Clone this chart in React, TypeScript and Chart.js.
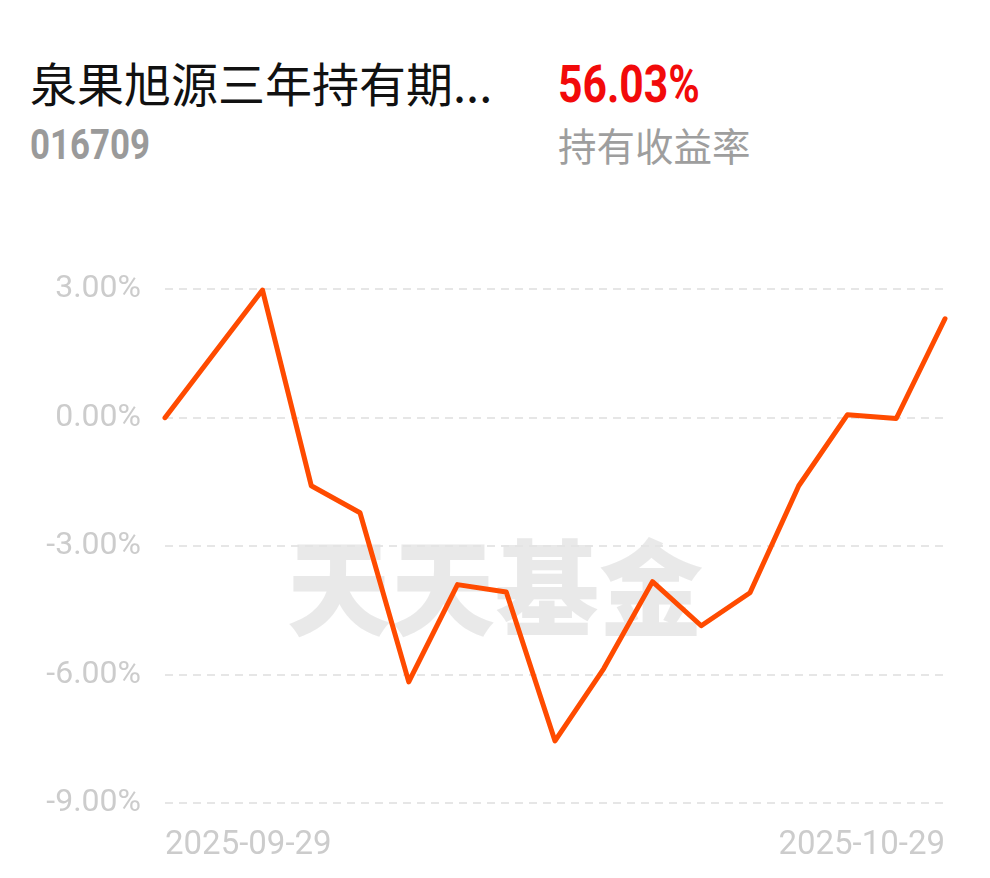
import React, { useEffect, useRef } from "react";
import { Chart, registerables } from "chart.js";

Chart.register(...registerables);

const fundName = "泉果旭源三年持有期...";
const fundCode = "016709";
const holdReturn = "56.03%";
const holdReturnLabel = "持有收益率";
const watermark = "天天基金";

const dates = [
  "2025-09-29", "2025-09-30", "2025-10-09", "2025-10-10", "2025-10-13",
  "2025-10-14", "2025-10-15", "2025-10-16", "2025-10-17", "2025-10-20",
  "2025-10-21", "2025-10-22", "2025-10-23", "2025-10-24", "2025-10-27",
  "2025-10-28", "2025-10-29",
];
const returns = [
  0.0, 1.49, 2.98, -1.59, -2.22, -6.17, -3.9, -4.07, -7.55, -5.86,
  -3.83, -4.86, -4.09, -1.59, 0.07, -0.02, 2.31,
];
const yTicks = [3, 0, -3, -6, -9];

const watermarkPlugin = {
  id: "watermark",
  beforeDatasetsDraw(chart: any) {
    const ctx = chart.ctx;
    ctx.save();
    ctx.fillStyle = "rgba(228,228,228,0.8)";
    ctx.font = "900 104px 'Noto Sans CJK SC'";
    ctx.textAlign = "center";
    ctx.textBaseline = "middle";
    ctx.fillText(watermark, 495, 342);
    ctx.restore();
  },
};

export default function App() {
  const ref = useRef<HTMLCanvasElement>(null);
  useEffect(() => {
    const last = dates.length - 1;
    const chart = new Chart(ref.current!, {
      type: "line",
      data: {
        labels: dates,
        datasets: [
          {
            data: returns,
            borderColor: "#ff4b00",
            borderWidth: 5,
            pointRadius: 0,
            tension: 0,
            borderJoinStyle: "round",
            borderCapStyle: "round",
            clip: false as any,
          },
        ],
      },
      options: {
        animation: false,
        responsive: false,
        devicePixelRatio: 1,
        layout: { padding: { left: 0, right: 45, top: 17, bottom: 0 } },
        plugins: { legend: { display: false }, tooltip: { enabled: false } },
        scales: {
          x: {
            grid: { display: false },
            border: { display: false },
            afterFit: (s: any) => {
              s.height = 75;
            },
            ticks: {
              autoSkip: false,
              maxRotation: 0,
              align: "inner",
              padding: 15,
              color: "#cccccc",
              font: { family: "Roboto", size: 33 },
              callback: (_v: any, i: number) =>
                i === 0 || i === last ? dates[i] : "",
            },
          },
          y: {
            min: -9,
            max: 3,
            afterFit: (s: any) => {
              s.width = 165;
            },
            afterBuildTicks: (s: any) => {
              s.ticks = yTicks.map((v) => ({ value: v }));
            },
            grid: {
              color: "#e6e6e6",
              lineWidth: 2,
              drawTicks: false,
            },
            border: { display: false, dash: [8, 6] },
            ticks: {
              padding: 24,
              color: "#cccccc",
              font: { family: "Roboto", size: 32 },
              callback: (v: any) => Number(v).toFixed(2) + "%",
            },
          },
        },
      },
      plugins: [watermarkPlugin],
    });
    return () => chart.destroy();
  }, []);

  return (
    <div
      style={{
        position: "absolute",
        left: 0,
        top: 0,
        width: 990,
        height: 878,
        background: "#fff",
        overflow: "hidden",
      }}
    >
      <div
        style={{
          position: "absolute",
          left: 30,
          top: 58,
          fontFamily: "'Noto Sans CJK SC'",
          fontSize: 47,
          lineHeight: "47px",
          color: "#111",
          whiteSpace: "nowrap",
        }}
      >
        {fundName}
      </div>
      <div
        style={{
          position: "absolute",
          left: 30,
          top: 124,
          fontFamily: "Roboto",
          fontWeight: 700,
          fontSize: 42,
          lineHeight: "42px",
          color: "#9a9a9a",
          transform: "scaleX(0.83)",
          transformOrigin: "left top",
          whiteSpace: "nowrap",
        }}
      >
        {fundCode}
      </div>
      <div
        style={{
          position: "absolute",
          left: 558,
          top: 59,
          fontFamily: "Roboto",
          fontWeight: 700,
          fontSize: 52,
          lineHeight: "52px",
          color: "#f20a0a",
          transform: "scaleX(0.82)",
          transformOrigin: "left top",
          whiteSpace: "nowrap",
        }}
      >
        {holdReturn}
      </div>
      <div
        style={{
          position: "absolute",
          left: 558,
          top: 125,
          fontFamily: "'Noto Sans CJK SC'",
          fontSize: 38.5,
          lineHeight: "38px",
          color: "#9e9e9e",
          whiteSpace: "nowrap",
        }}
      >
        {holdReturnLabel}
      </div>
      <canvas
        ref={ref}
        width={990}
        height={632}
        style={{ position: "absolute", left: 0, top: 246, width: 990, height: 632 }}
      />
    </div>
  );
}
